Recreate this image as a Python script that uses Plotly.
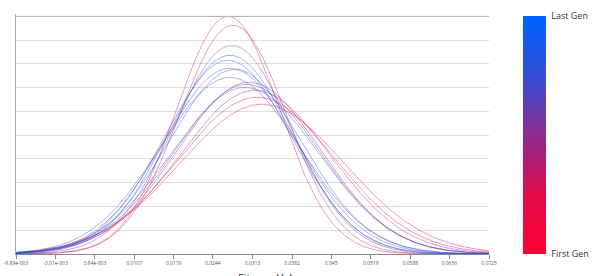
import numpy as np
import plotly.graph_objects as go

# ---- data: fitness distribution (normal fit) per generation, first -> last ----
generation = list(range(14))
gen_mean = [0.03296, 0.03209, 0.02704, 0.02791, 0.03174, 0.03070, 0.02773,
            0.03035, 0.02739, 0.02739, 0.03000, 0.02704, 0.02739, 0.02826]
gen_std = [0.01428, 0.01364, 0.00900, 0.00935, 0.01306, 0.01245, 0.01026,
           0.01261, 0.01211, 0.01151, 0.01284, 0.01104, 0.01076, 0.01158]

x_tick_vals = [-0.00989, -0.00301, 0.00384, 0.0107, 0.0176, 0.0244, 0.0313,
               0.0382, 0.045, 0.0519, 0.0588, 0.0656, 0.0725]
x_tick_text = ["-9.89e-003", "-3.01e-003", "3.84e-003", "0.0107", "0.0176",
               "0.0244", "0.0313", "0.0382", "0.045", "0.0519", "0.0588",
               "0.0656", "0.0725"]
cbar_labels = ["First Gen", "Last Gen"]

first_rgb = (255, 0, 51)
last_rgb = (0, 98, 255)


def gen_color(t):
    r = round(first_rgb[0] + (last_rgb[0] - first_rgb[0]) * t)
    g = round(first_rgb[1] + (last_rgb[1] - first_rgb[1]) * t)
    b = round(first_rgb[2] + (last_rgb[2] - first_rgb[2]) * t)
    return f"rgb({r},{g},{b})"


xmin, xmax = x_tick_vals[0], x_tick_vals[-1]
xs = np.linspace(xmin, xmax, 400)

fig = go.Figure()
n = len(generation)
peaks = []
for g, m, s in zip(generation, gen_mean, gen_std):
    ys = np.exp(-0.5 * ((xs - m) / s) ** 2) / (s * np.sqrt(2 * np.pi))
    peaks.append(1 / (s * np.sqrt(2 * np.pi)))
    fig.add_trace(go.Scatter(
        x=xs, y=ys, mode="lines",
        line=dict(color=gen_color(g / (n - 1)), width=1),
        opacity=0.42, showlegend=False, hoverinfo="skip"))

ymax = max(peaks)

# colorbar trace
fig.add_trace(go.Scatter(
    x=[None], y=[None], mode="markers", showlegend=False,
    marker=dict(
        color=[0, 1], cmin=0, cmax=1,
        colorscale=[[0, gen_color(0)], [0.25, gen_color(0.12)],
                    [0.5, gen_color(0.45)], [0.75, gen_color(0.8)],
                    [1, gen_color(1)]],
        showscale=True,
        colorbar=dict(
            x=1.072, xanchor="left", xpad=0,
            y=0.4958, yanchor="middle", ypad=0,
            thickness=23, lenmode="pixels", len=238,
            outlinewidth=0,
            tickvals=[0, 1], ticktext=cbar_labels,
            ticks="outside", ticklen=4, tickcolor="rgba(0,0,0,0)",
            tickfont=dict(size=9, color="#333", family="Open Sans"),
        ),
    ),
))

fig.add_annotation(
    text="Fitness Value", xref="paper", yref="paper", x=0.54, y=-0.058,
    xanchor="center", yanchor="top", showarrow=False,
    font=dict(size=11, color="#333", family="Open Sans"))

# top frame line drawn at the top gridline level
fig.add_shape(type="line", xref="x", yref="y", x0=xmin, x1=xmax,
              y0=ymax, y1=ymax, line=dict(color="#b4b4b4", width=1),
              layer="above")

fig.update_layout(
    width=599, height=276,
    margin=dict(l=16, r=110, t=14, b=22, autoexpand=False),
    paper_bgcolor="white", plot_bgcolor="white",
    xaxis=dict(
        range=[xmin, xmax], tickvals=x_tick_vals, ticktext=x_tick_text,
        ticks="outside", ticklen=4, tickcolor="#888", tickwidth=1,
        showline=True, linecolor="#888", linewidth=1,
        showgrid=False, zeroline=False,
        tickfont=dict(size=5, color="#555", family="Open Sans"),
    ),
    yaxis=dict(
        range=[0, ymax * 1.01], tick0=0, dtick=ymax / 10,
        showticklabels=False, ticks="",
        showgrid=True, gridcolor="#dedede", gridwidth=1,
        showline=True, linecolor="#aaa", linewidth=1,
        zeroline=False,
    ),
)

fig.write_html("out.html")
